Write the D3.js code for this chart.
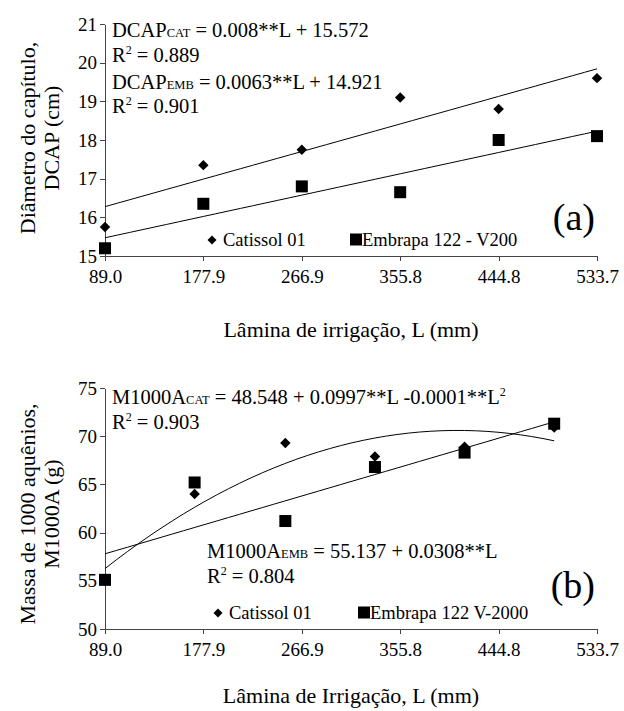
<!DOCTYPE html>
<html>
<head>
<meta charset="utf-8">
<script src="https://cdn.jsdelivr.net/npm/d3@7"></script>
<style>
  body { margin: 0; background: #fff; }
  svg text { font-family: "Liberation Serif", "Times New Roman", serif; fill: #000; }
  .axis path, .axis line { stroke: #444; shape-rendering: crispEdges; }
  .axis text { font-size: 19px; }
  .fit { fill: none; stroke: #000; stroke-width: 1; }
</style>
</head>
<body>
<div id="chart"></div>
<script>
// irrigation levels (mm) used on the x axis
var xTickLabels = ["89.0", "177.9", "266.9", "355.8", "444.8", "533.7"];

// (a) capitulum diameter, cm
var laminaA = [89.0, 177.9, 266.9, 355.8, 444.8, 533.7];
var dcapCat = [15.75, 17.35, 17.75, 19.1, 18.8, 19.6];
var dcapEmb = [15.2, 16.35, 16.8, 16.65, 18.0, 18.1];

// (b) mass of 1000 achenes, g
var laminaB = [89, 170, 252, 333, 414, 495];
var massCat = [55.0, 64.0, 69.3, 67.9, 68.9, 70.9];
var massEmb = [55.1, 65.2, 61.2, 66.8, 68.3, 71.3];

var width = 624, height = 711;

var svg = d3.select("#chart").append("svg")
  .attr("width", width)
  .attr("height", height);

///////////////////////////////////////////////////////////////////////////
////////////////////////////// Fit helpers ////////////////////////////////
///////////////////////////////////////////////////////////////////////////

function linearFit(xs, ys) {
  var mx = d3.mean(xs), my = d3.mean(ys);
  var sxy = d3.sum(xs, function(x, i) { return (x - mx) * (ys[i] - my); });
  var sxx = d3.sum(xs, function(x) { return (x - mx) * (x - mx); });
  var b = sxy / sxx;
  var a = my - b * mx;
  return function(x) { return a + b * x; };
}

function quadFit(xs, ys) {
  // normal equations for y = c0 + c1 x + c2 x^2
  var s = [0, 0, 0, 0, 0], t = [0, 0, 0];
  xs.forEach(function(x, i) {
    for (var k = 0; k < 5; k++) s[k] += Math.pow(x, k);
    for (var k2 = 0; k2 < 3; k2++) t[k2] += ys[i] * Math.pow(x, k2);
  });
  var m = [[s[0], s[1], s[2], t[0]], [s[1], s[2], s[3], t[1]], [s[2], s[3], s[4], t[2]]];
  for (var c = 0; c < 3; c++) {
    for (var r = c + 1; r < 3; r++) {
      var f = m[r][c] / m[c][c];
      for (var j = c; j < 4; j++) m[r][j] -= f * m[c][j];
    }
  }
  var co = [0, 0, 0];
  for (var r2 = 2; r2 >= 0; r2--) {
    var v = m[r2][3];
    for (var j2 = r2 + 1; j2 < 3; j2++) v -= m[r2][j2] * co[j2];
    co[r2] = v / m[r2][r2];
  }
  return function(x) { return co[0] + co[1] * x + co[2] * x * x; };
}

///////////////////////////////////////////////////////////////////////////
//////////////////////////// Panel builder ////////////////////////////////
///////////////////////////////////////////////////////////////////////////

function drawPanel(cfg) {
  var x = d3.scaleLinear().domain([89.0, 533.7]).range([105, 597]);
  var y = d3.scaleLinear().domain(cfg.yDomain).range([cfg.bottom, cfg.top]);

  var g = svg.append("g");

  // axes
  var xAxis = g.append("g").attr("class", "axis")
    .attr("transform", "translate(0," + cfg.bottom + ")")
    .call(d3.axisBottom(x)
      .tickValues(xTickLabels.map(Number))
      .tickFormat(function(d, i) { return xTickLabels[i]; })
      .tickSize(5).tickSizeOuter(0).tickPadding(5));
  xAxis.selectAll("text").attr("dy", "0.9em");

  g.append("g").attr("class", "axis")
    .attr("transform", "translate(105,0)")
    .call(d3.axisLeft(y).ticks(cfg.yTicks).tickSize(5).tickSizeOuter(0).tickPadding(3));

  g.selectAll(".axis").attr("font-family", null).attr("font-size", null);
  g.selectAll(".axis text").style("font-family", "'Liberation Serif', serif");

  // trend lines
  var line = d3.line().x(function(d) { return x(d[0]); }).y(function(d) { return y(d[1]); });
  cfg.fits.forEach(function(f) {
    var x0 = f.xs[0], x1 = d3.max(f.xs);
    var pts = d3.range(0, 41).map(function(i) {
      var xv = x0 + (x1 - x0) * i / 40;
      return [xv, f.fn(xv)];
    });
    g.append("path").attr("class", "fit").attr("d", line(pts));
  });

  // markers: diamonds first, squares on top
  g.selectAll(".dia")
    .data(cfg.catY.map(function(v, i) { return [cfg.xs[i], v]; }))
    .enter().append("path")
    .attr("class", "dia")
    .attr("transform", function(d) { return "translate(" + x(d[0]) + "," + y(d[1]) + ") rotate(45)"; })
    .attr("d", "M-3.7,-3.7H3.7V3.7H-3.7Z")
    .attr("fill", "#000");

  g.selectAll(".sq")
    .data(cfg.embY.map(function(v, i) { return [cfg.xs[i], v]; }))
    .enter().append("rect")
    .attr("class", "sq")
    .attr("x", function(d) { return x(d[0]) - 6; })
    .attr("y", function(d) { return y(d[1]) - 6; })
    .attr("width", 12).attr("height", 12)
    .attr("fill", "#000");

  // y axis title (two lines)
  cfg.yTitle.forEach(function(t, i) {
    svg.append("text")
      .attr("transform", "translate(" + (35 + i * 24) + "," + cfg.yTitleMid + ") rotate(-90)")
      .attr("text-anchor", "middle")
      .style("font-size", "22px")
      .text(t);
  });

  // x axis title
  svg.append("text")
    .attr("x", 351).attr("y", cfg.xTitleY)
    .attr("text-anchor", "middle")
    .style("font-size", "22px")
    .text(cfg.xTitle);

  // panel letter
  svg.append("text")
    .attr("x", 595).attr("y", cfg.letterY)
    .attr("text-anchor", "end")
    .style("font-size", "38px")
    .text(cfg.letter);

  // legend
  var lg = svg.append("g").attr("transform", "translate(0," + cfg.legendY + ")");
  lg.append("path")
    .attr("transform", "translate(" + cfg.legendX[0] + ",-6) rotate(45)")
    .attr("d", "M-3.2,-3.2H3.2V3.2H-3.2Z").attr("fill", "#000");
  lg.append("text").attr("x", cfg.legendX[0] + 11).attr("y", 0)
    .style("font-size", "18.5px").text("Catissol 01");
  lg.append("rect").attr("x", cfg.legendX[1] - 6).attr("y", -12.5)
    .attr("width", 12).attr("height", 12).attr("fill", "#000");
  lg.append("text").attr("x", cfg.legendX[1] + 6).attr("y", 0)
    .style("font-size", "18.5px").text(cfg.embLabel);

  // equations
  cfg.equations.forEach(function(eq) {
    var t = svg.append("text").attr("x", eq.x).attr("y", eq.y).style("font-size", "20.5px");
    eq.parts.forEach(function(p) {
      var ts = t.append("tspan").text(p.t);
      if (p.sub) ts.style("font-size", "12.5px");
      if (p.sup) ts.style("font-size", "12px").attr("dy", "-8");
      if (p.down) ts.attr("dy", "8");
    });
  });
}

///////////////////////////////////////////////////////////////////////////
/////////////////////////////// Panel (a) /////////////////////////////////
///////////////////////////////////////////////////////////////////////////

drawPanel({
  top: 24, bottom: 256, yDomain: [15, 21], yTicks: 6,
  xs: laminaA, catY: dcapCat, embY: dcapEmb,
  fits: [
    { xs: laminaA, fn: linearFit(laminaA, dcapCat) },
    { xs: laminaA, fn: linearFit(laminaA, dcapEmb) }
  ],
  yTitle: ["Diâmetro do capítulo,", "DCAP (cm)"], yTitleMid: 138,
  xTitle: "Lâmina de irrigação, L (mm)", xTitleY: 337,
  letter: "(a)", letterY: 230,
  legendY: 246, legendX: [212, 356], embLabel: "Embrapa 122 - V200",
  equations: [
    { x: 112, y: 37, parts: [{t: "DCAP"}, {t: "CAT", sub: true}, {t: " = 0.008**L + 15.572"}] },
    { x: 112, y: 62, parts: [{t: "R"}, {t: "2", sup: true}, {t: " = 0.889", down: true}] },
    { x: 112, y: 89, parts: [{t: "DCAP"}, {t: "EMB", sub: true}, {t: " = 0.0063**L + 14.921"}] },
    { x: 112, y: 113, parts: [{t: "R"}, {t: "2", sup: true}, {t: " = 0.901", down: true}] }
  ]
});

///////////////////////////////////////////////////////////////////////////
/////////////////////////////// Panel (b) /////////////////////////////////
///////////////////////////////////////////////////////////////////////////

drawPanel({
  top: 388, bottom: 629, yDomain: [50, 75], yTicks: 5,
  xs: laminaB, catY: massCat, embY: massEmb,
  fits: [
    { xs: laminaB, fn: quadFit(laminaB, massCat) },
    { xs: laminaB, fn: linearFit(laminaB, massEmb) }
  ],
  yTitle: ["Massa de 1000 aquênios,", "M1000A (g)"], yTitleMid: 514,
  xTitle: "Lâmina de Irrigação, L (mm)", xTitleY: 703,
  letter: "(b)", letterY: 598,
  legendY: 619, legendX: [218, 364], embLabel: "Embrapa 122 V-2000",
  equations: [
    { x: 112, y: 404, parts: [{t: "M1000A"}, {t: "CAT", sub: true}, {t: " = 48.548 + 0.0997**L -0.0001**L"}, {t: "2", sup: true}] },
    { x: 112, y: 429, parts: [{t: "R"}, {t: "2", sup: true}, {t: " = 0.903", down: true}] },
    { x: 207, y: 558, parts: [{t: "M1000A"}, {t: "EMB", sub: true}, {t: " = 55.137 + 0.0308**L"}] },
    { x: 207, y: 583, parts: [{t: "R"}, {t: "2", sup: true}, {t: " = 0.804", down: true}] }
  ]
});
</script>
</body>
</html>
